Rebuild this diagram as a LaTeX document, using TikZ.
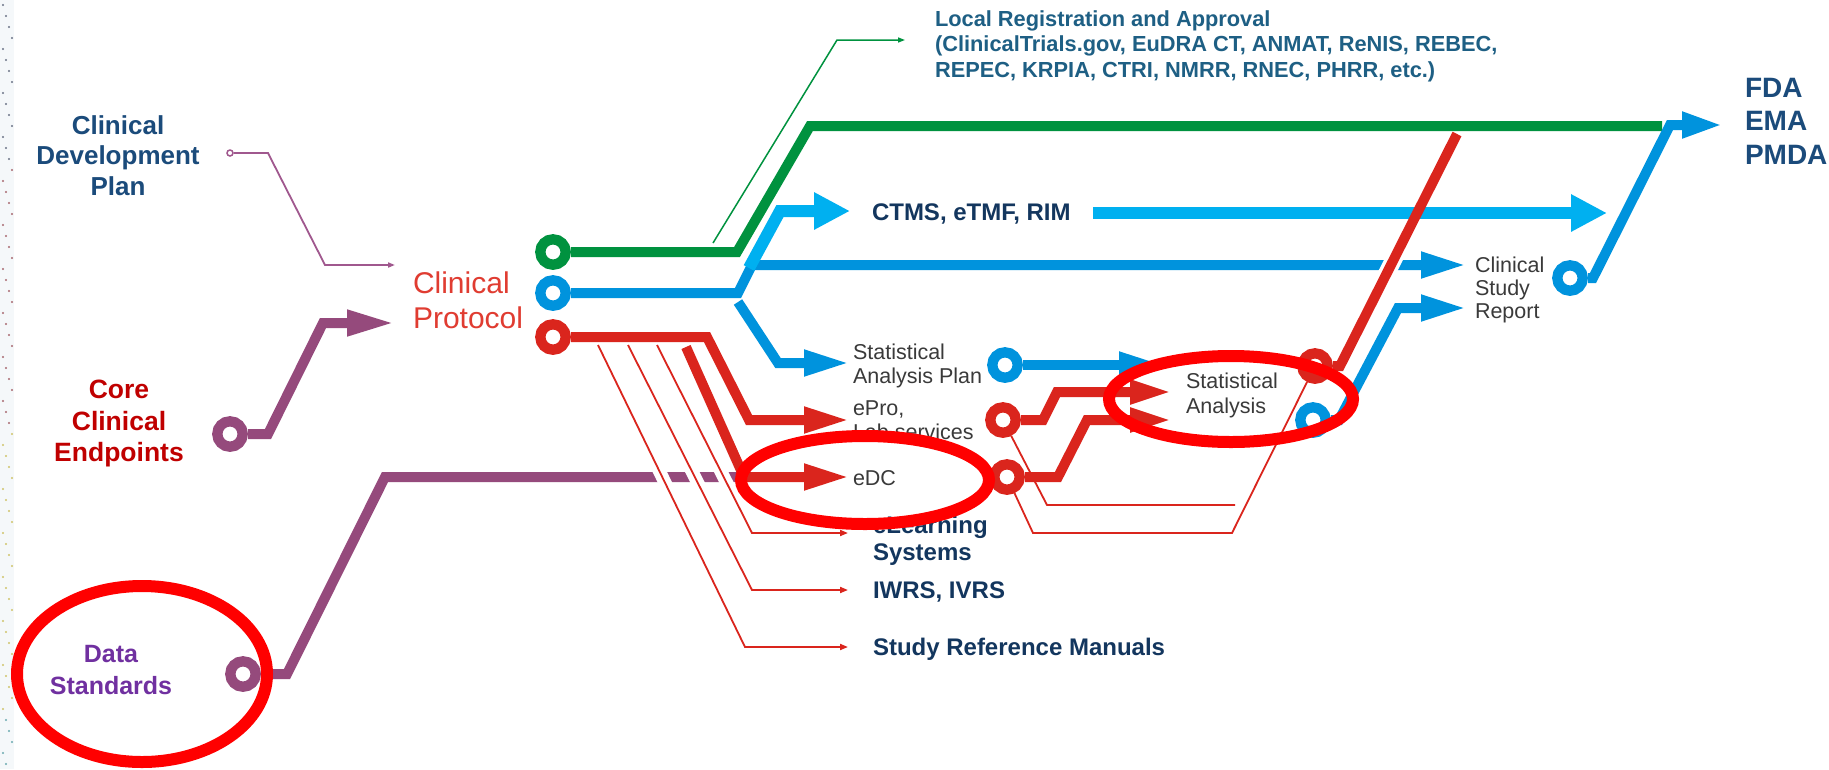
\documentclass[tikz,border=0pt]{standalone}
\usepackage{fontspec}
\setmainfont{Liberation Sans}
\usetikzlibrary{arrows.meta}
\pgfdeclarelayer{back}
\pgfdeclarelayer{front}
\pgfsetlayers{back,main,front}
\definecolor{cgreen}{HTML}{00923F}
\definecolor{cblue}{HTML}{0093DD}
\definecolor{clblue}{HTML}{00B0F0}
\definecolor{cred}{HTML}{DA251D}
\definecolor{cpurple}{HTML}{954A7C}
\definecolor{cpink}{HTML}{A0588E}
\definecolor{navy}{HTML}{13365E}
\definecolor{cdpblue}{HTML}{1B4B7B}
\definecolor{regblue}{HTML}{1E5F84}
\definecolor{coredred}{HTML}{C00000}
\definecolor{dspurple}{HTML}{7030A0}
\definecolor{protred}{HTML}{E03C31}
\definecolor{gtext}{HTML}{3A3A3A}
\definecolor{markred}{HTML}{FF0000}
\definecolor{stripbg}{HTML}{F5F8FA}
\definecolor{dotA}{HTML}{6A7385}
\definecolor{dotB}{HTML}{A86870}
\definecolor{dotC}{HTML}{CFC46A}
\definecolor{dotD}{HTML}{6AAAB0}
\begin{document}
\begin{tikzpicture}[x=1pt,y=-1pt,
  track/.style={line width=10pt, line join=miter, line cap=butt},
  fine/.style={line width=1.8pt, line join=miter},
  ring/.style={circle, draw=#1, fill=white, line width=10.3pt, minimum size=25.4pt, inner sep=0pt},
  headM/.style={-{Triangle[length=46pt,width=24pt]}},
  headL/.style={-{Triangle[length=36pt,width=35pt]}},
  headS/.style={-{Triangle[length=8pt,width=6pt]}},
  halo/.style={preaction={draw=white, line width=13pt, arrows=-}},
  redmark/.style={draw=markred, line width=12pt},
  txt/.style={inner sep=0pt, outer sep=0pt},
]
\path[use as bounding box] (0,0) rectangle (1829,769);

% ---------- rings ----------
\node[ring=cgreen] (rgreen) at (553,252) {};
\node[ring=cblue] (rblue) at (553,293) {};
\node[ring=cred] (rred) at (553,337) {};
\node[ring=cpurple] (rcore) at (230,434) {};
\node[ring=cpurple] (rds) at (243,674) {};
\node[ring=cblue] (rsap) at (1005,365) {};
\node[ring=cred] (repro) at (1003,420) {};
\node[ring=cred] (redc) at (1007,477) {};
\node[ring=cred] (rsared) at (1315,366) {};
\node[ring=cblue] (rsablue) at (1313,420) {};
\node[ring=cblue] (rcsr) at (1570,278) {};
\node[circle, draw=cpink, fill=white, line width=1.5pt, minimum size=6pt, inner sep=0pt] (pinkdot) at (230,153) {};

% ---------- texts ----------
\node[txt, anchor=north, align=center, text=cdpblue, font=\fontsize{26}{30.5}\selectfont\bfseries] (cdp) at (118,115.3) {Clinical\\Development\\Plan};
\node[txt, anchor=north, align=center, text=coredred, font=\fontsize{26.5}{31.5}\selectfont\bfseries] (core) at (119,380) {Core\\Clinical\\Endpoints};
\node[txt, anchor=north, align=center, text=dspurple, font=\fontsize{25}{32}\selectfont\bfseries] (ds) at (111,645) {Data\\Standards};
\node[txt, anchor=north west, align=left, text=protred, font=\fontsize{30}{35}\selectfont] (prot) at (413,271.4) {Clinical\\Protocol};
\node[txt, anchor=north west, align=left, text=regblue, font=\fontsize{21.8}{25.7}\selectfont\bfseries] (localreg) at (935,10.4) {Local Registration and Approval\\(ClinicalTrials.gov, EuDRA CT, ANMAT, ReNIS, REBEC,\\REPEC, KRPIA, CTRI, NMRR, RNEC, PHRR, etc.)};
\node[txt, anchor=base west, text=navy, font=\fontsize{24}{28}\selectfont\bfseries] (ctms) at (872,220) {CTMS, eTMF, RIM};
\node[txt, anchor=north west, align=left, text=cdpblue, font=\fontsize{28}{33.5}\selectfont\bfseries] (fda) at (1745,78) {FDA\\EMA\\PMDA};
\node[txt, anchor=north west, align=left, text=gtext, font=\fontsize{21.5}{23}\selectfont] (csr) at (1475,257) {Clinical\\Study\\Report};
\node[txt, anchor=north west, align=left, text=gtext, font=\fontsize{21.5}{24}\selectfont] (sap) at (853,344) {Statistical\\Analysis Plan};
\node[txt, anchor=north west, align=left, text=gtext, font=\fontsize{21.5}{24}\selectfont] (epro) at (853,400.6) {ePro,\\Lab services};
\node[txt, anchor=base west, text=gtext, font=\fontsize{21.5}{24}\selectfont] (edc) at (853,485) {eDC};
\node[txt, anchor=north west, align=left, text=gtext, font=\fontsize{21.5}{24.5}\selectfont] (sa) at (1186,373) {Statistical\\Analysis};
\node[txt, anchor=north west, align=left, text=navy, font=\fontsize{24}{27}\selectfont\bfseries] (elearn) at (873,515.8) {eLearning\\Systems};
\node[txt, anchor=base west, text=navy, font=\fontsize{24}{28}\selectfont\bfseries] (iwrs) at (873,598) {IWRS, IVRS};
\node[txt, anchor=base west, text=navy, font=\fontsize{24}{28}\selectfont\bfseries] (srm) at (873,655) {Study Reference Manuals};

% ---------- free ends ----------
\coordinate (cpPink) at (395,265);
\coordinate (cpCore) at (395,323);
\coordinate (dsEnd) at (740,477);
\coordinate (t1s) at (598,345);
\coordinate (t2s) at (628,345);
\coordinate (t3s) at (657,345);
\coordinate (srmIn) at (848,647);
\coordinate (iwrsIn) at (848,590);
\coordinate (elIn) at (848,533);
\coordinate (eproIn) at (850,420);
\coordinate (edcIn) at (850,477);
\coordinate (r2s) at (686,347);
\coordinate (bds) at (738,302);
\coordinate (sapIn) at (850,363);
\coordinate (csrIn1) at (1467,265);
\coordinate (csrIn2) at (1467,308);
\coordinate (lbs) at (749,268);
\coordinate (ctmsIn) at (850,211);
\coordinate (ctmsOut) at (1093,213);
\coordinate (lbEnd) at (1607,213);
\coordinate (saIn0) at (1165,365);
\coordinate (saIn1) at (1173,392);
\coordinate (saIn2) at (1173,420);
\coordinate (gEnd) at (1662,126);
\coordinate (gts) at (713,243);
\coordinate (regIn) at (905,40);
\coordinate (redTop) at (1457,134);
\coordinate (fdaIn) at (1723,125);
\coordinate (eproTEnd) at (1235,505);

\begin{pgfonlayer}{back}
\fill[white] (0,0) rectangle (1829,769);
\fill[stripbg] (0,0) rectangle (14,769);
\foreach \k in {0,...,69}{
  \pgfmathsetmacro{\yy}{5+11*\k}
  \pgfmathsetmacro{\xx}{3+3*mod(\k,4)}
  \ifnum\k<15 \def\dc{dotA}\else\ifnum\k<39 \def\dc{dotB}\else\ifnum\k<65 \def\dc{dotC}\else\def\dc{dotD}\fi\fi\fi
  \fill[color=\dc] (\xx,\yy) circle (1.1pt);
}
% purple / pink
\draw[fine, cpink, -{Triangle[length=7pt,width=5pt]}] (pinkdot) -- (268,153) -- (325,265) -- (cpPink);
\draw[track, cpurple, -{Triangle[length=48pt,width=24pt]}] (rcore) -- (268,434) -- (323,323) -- (cpCore);
\draw[track, cpurple] (rds) -- (287,674) -- (385,477) -- (dsEnd);
% thin red lines with halo
\draw[fine, cred, halo, headS] (t1s) -- (745,647) -- (srmIn);
\draw[fine, cred, halo, headS] (t2s) -- (752,590) -- (iwrsIn);
\draw[fine, cred, halo, headS] (t3s) -- (752,533) -- (elIn);
% green
\draw[track, cgreen] (rgreen) -- (737,252) -- (810,126) -- (gEnd);
\draw[fine, line width=1.5pt, cgreen, -{Triangle[length=7pt,width=5pt]}] (gts) -- (837,40) -- (regIn);
% blue
\draw[track, cblue, headM] (rblue) -- (738,293) -- (752,265) -- (csrIn1);
\draw[track, cblue, headM] (bds) -- (778,363) -- (sapIn);
\draw[track, cblue, headM] (rsap) -- (saIn0);
\draw[track, cblue, headM] (rsablue) -- (1339,420) -- (1398,308) -- (csrIn2);
\draw[track, cblue, -{Triangle[length=41pt,width=24pt]}] (rcsr) -- (1593,278) -- (1670,125) -- (fdaIn);
\draw[track, line width=12pt, clblue, headL] (lbs) -- (780,211) -- (ctmsIn);
\draw[track, line width=12pt, clblue, headL] (ctmsOut) -- (lbEnd);
% red
\draw[track, cred, headM] (rred) -- (707,337) -- (749,420) -- (eproIn);
\draw[track, cred, headM] (r2s) -- (744,477) -- (edcIn);
\draw[track, cred, -{Triangle[length=43pt,width=22pt]}] (repro) -- (1043,420) -- (1057,392) -- (saIn1);
\draw[track, cred, -{Triangle[length=43pt,width=22pt]}] (redc) -- (1058,477) -- (1087,420) -- (saIn2);
\draw[fine, cred] (repro) -- (1047,505) -- (eproTEnd);
\draw[fine, cred] (redc) -- (1033,533) -- (1232,533) -- (rsared);
\draw[white, line width=17pt] (1380.8,285) -- (1401,245);
\draw[track, cred] (rsared) -- (1340,366) -- (redTop);
\end{pgfonlayer}

\begin{pgfonlayer}{front}
\draw[redmark] (142,674) ellipse [x radius=125pt, y radius=88pt];
\draw[redmark] (865,480) ellipse [x radius=124pt, y radius=44pt];
\draw[redmark] (1231,399) ellipse [x radius=122pt, y radius=43pt];
\end{pgfonlayer}
\end{tikzpicture}
\end{document}
